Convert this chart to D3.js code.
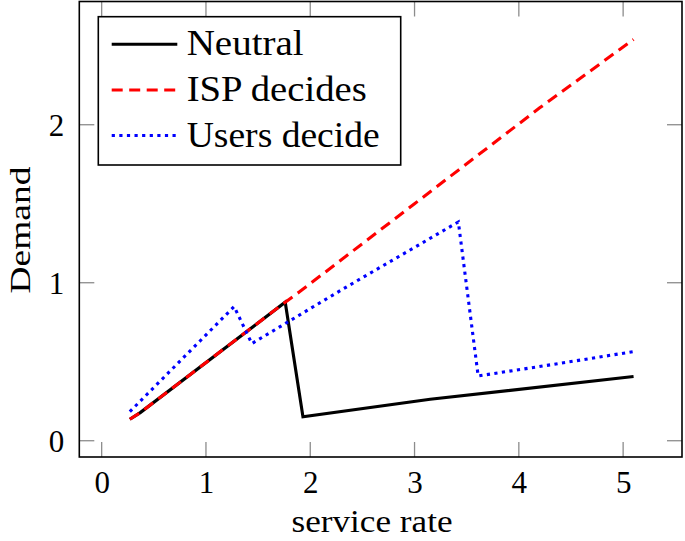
<!DOCTYPE html>
<html>
<head>
<meta charset="utf-8">
<script src="https://cdn.jsdelivr.net/npm/d3@7"></script>
<style>
  html, body { margin: 0; padding: 0; background: #fff; }
  svg { display: block; }
  text { font-family: "Liberation Serif", "DejaVu Serif", serif; fill: #000; }
</style>
</head>
<body>
<svg id="chart" width="685" height="541"></svg>
<script>
// ---- data ----
const xTicks = [0, 1, 2, 3, 4, 5];
const yTicks = [0, 1, 2];
const seriesNames = ["Neutral", "ISP decides", "Users decide"];

const neutralX = [0.27, 0.37, 1.76, 1.93, 3.15, 5.1];
const neutralY = [0.136, 0.178, 0.877, 0.152, 0.262, 0.406];

const ispX = [0.27, 0.37, 1.76, 1.9, 3.0, 4.2, 5.1];
const ispY = [0.136, 0.178, 0.877, 0.944, 1.5, 2.107, 2.54];

const usersX = [0.27, 1.27, 1.44, 2.3, 2.86, 3.42, 3.61, 4.3, 5.1];
const usersY = [0.184, 0.849, 0.615, 0.955, 1.17, 1.385, 0.41, 0.48, 0.564];

// ---- layout ----
const L = 79.3, R = 682, T = 1.5, B = 457;
const svg = d3.select("#chart");

const x = d3.scaleLinear().domain([-0.2145, 5.5645]).range([L, R]);
const y = d3.scaleLinear().domain([-0.103, 2.78]).range([B, T]);

const tickLen = 15;
const tickColor = "#8c8c8c";

// ticks inside on all four sides
const tg = svg.append("g").attr("stroke", tickColor).attr("stroke-width", 1.3);
xTicks.forEach(t => {
  tg.append("line").attr("x1", x(t)).attr("x2", x(t)).attr("y1", B).attr("y2", B - tickLen);
  tg.append("line").attr("x1", x(t)).attr("x2", x(t)).attr("y1", T).attr("y2", T + tickLen);
});
yTicks.forEach(t => {
  tg.append("line").attr("y1", y(t)).attr("y2", y(t)).attr("x1", L).attr("x2", L + tickLen);
  tg.append("line").attr("y1", y(t)).attr("y2", y(t)).attr("x1", R).attr("x2", R - tickLen);
});

// axes with d3 for tick labels (no lines)
const xAxis = d3.axisBottom(x).tickValues(xTicks).tickSize(0).tickPadding(0).tickFormat(d3.format("d"));
const gx = svg.append("g").attr("transform", `translate(0,${B})`).call(xAxis);
gx.select(".domain").remove();
gx.selectAll("text").attr("font-size", 31).attr("font-family", "Liberation Serif")
  .attr("dy", null).attr("y", 36);

const yAxis = d3.axisLeft(y).tickValues(yTicks).tickSize(0).tickPadding(0).tickFormat(d3.format("d"));
const gy = svg.append("g").attr("transform", `translate(${L},0)`).call(yAxis);
gy.select(".domain").remove();
gy.selectAll("text").attr("font-size", 31).attr("font-family", "Liberation Serif")
  .attr("x", -15).attr("dy", "0.34em");

// series
const line = d3.line().x(d => x(d[0])).y(d => y(d[1]));
const zip = (a, b) => a.map((v, i) => [v, b[i]]);

const styles = [
  { color: "#000000", dash: null },
  { color: "#ff0000", dash: "11,6.5" },
  { color: "#0000ff", dash: "3.2,4.4" }
];
const data = [zip(neutralX, neutralY), zip(ispX, ispY), zip(usersX, usersY)];

data.forEach((d, i) => {
  svg.append("path").datum(d).attr("d", line)
    .attr("fill", "none").attr("stroke", styles[i].color)
    .attr("stroke-width", 3.1)
    .attr("stroke-linejoin", "miter")
    .attr("stroke-dasharray", styles[i].dash);
});

// frame
svg.append("rect").attr("x", L).attr("y", T).attr("width", R - L).attr("height", B - T)
  .attr("fill", "none").attr("stroke", "#000").attr("stroke-width", 1.6);

// legend
const lg = svg.append("g");
lg.append("rect").attr("x", 98.3).attr("y", 16.7).attr("width", 302.4).attr("height", 148.3)
  .attr("fill", "#fff").attr("stroke", "#000").attr("stroke-width", 1.6);
const rowY = [44.3, 90, 135.5];
const textW = [117, 180, 193];
seriesNames.forEach((name, i) => {
  lg.append("line").attr("x1", 111.7).attr("x2", 177.3).attr("y1", rowY[i]).attr("y2", rowY[i])
    .attr("stroke", styles[i].color).attr("stroke-width", 3.1)
    .attr("stroke-dasharray", styles[i].dash);
  lg.append("text").attr("x", 186.7).attr("y", rowY[i] + 11)
    .attr("font-size", 35)
    .attr("textLength", textW[i]).attr("lengthAdjust", "spacingAndGlyphs")
    .text(name);
});

// axis titles
svg.append("text").attr("x", 372).attr("y", 532).attr("text-anchor", "middle")
  .attr("font-size", 32).attr("textLength", 161).attr("lengthAdjust", "spacingAndGlyphs")
  .text("service rate");
svg.append("text").attr("transform", "translate(30,230) rotate(-90)")
  .attr("text-anchor", "middle").attr("font-size", 30)
  .attr("textLength", 127).attr("lengthAdjust", "spacingAndGlyphs")
  .text("Demand");
</script>
</body>
</html>
